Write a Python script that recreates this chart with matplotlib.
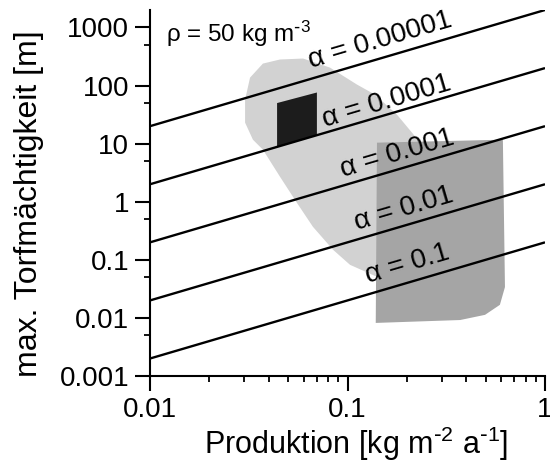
import math

import matplotlib

matplotlib.use("Agg")
import matplotlib.pyplot as plt
from matplotlib.ticker import FixedLocator, FuncFormatter, LogLocator, NullFormatter

# iso-alpha lines: max. peat thickness at the two ends of the x range
PROD_ENDS = [0.01, 1.0]
ALPHA_LABELS = ["0.00001", "0.0001", "0.001", "0.01", "0.1"]
THICK_LEFT = [20, 2, 0.2, 0.02, 0.002]
THICK_RIGHT = [2000, 200, 20, 2, 0.2]

# label anchors (left baseline of the alpha)
LABEL_X = [0.0655, 0.0765, 0.0945, 0.1117, 0.127]
LABEL_Y = [204, 19.6, 2.70, 0.329, 0.040]

# light stippled field
BLOB_X = [0.0303, 0.0321, 0.0373, 0.0455, 0.0596, 0.0815, 0.1117, 0.1377, 0.178,
          0.212, 0.233, 0.246, 0.246, 0.141, 0.103, 0.0845, 0.0668, 0.0554,
          0.0455, 0.0373, 0.0332, 0.0303]
BLOB_Y = [57, 137, 239, 281, 292, 204, 104, 70, 31.6,
          15.5, 10.4, 5.3, 0.055, 0.051, 0.082, 0.149, 0.371, 0.962,
          2.70, 7.88, 11.7, 23]

# darker stippled field
DARK_X = [0.141, 0.612, 0.627, 0.591, 0.497, 0.372, 0.139]
DARK_Y = [10.4, 11.7, 0.034, 0.0168, 0.0113, 0.0092, 0.0082]

# black field
BLACK_X = [0.044, 0.070, 0.070, 0.044]
BLACK_Y = [8.8, 14.0, 76, 50]

Y_TICKS = [0.001, 0.01, 0.1, 1, 10, 100, 1000]
X_TICKS = [0.01, 0.1, 1]

plt.rcParams.update({
    "font.family": ["Liberation Sans", "DejaVu Sans"],
    "mathtext.default": "regular",
    "axes.linewidth": 1.5,
})

fig = plt.figure(figsize=(5.5, 4.67), dpi=100)
ax = fig.add_axes([150 / 550, 1 - 376 / 467, 395 / 550, 366 / 467])
ax.set_xscale("log")
ax.set_yscale("log")
ax.set_xlim(0.01, 1)
ax.set_ylim(0.001, 2000)

ax.fill(BLOB_X, BLOB_Y, color="#d2d2d2", lw=0, zorder=1)
ax.fill(DARK_X, DARK_Y, color="#a5a5a5", lw=0, zorder=2)
ax.fill(BLACK_X, BLACK_Y, color="#1c1c1c", lw=0, zorder=3)

for lo, hi in zip(THICK_LEFT, THICK_RIGHT):
    ax.plot(PROD_ENDS, [lo, hi], color="black", lw=1.7, zorder=4,
            solid_capstyle="butt")

# rotate labels along the lines (same slope for all)
p0 = ax.transData.transform((PROD_ENDS[0], THICK_LEFT[0]))
p1 = ax.transData.transform((PROD_ENDS[1], THICK_RIGHT[0]))
angle = math.degrees(math.atan2(p1[1] - p0[1], p1[0] - p0[0]))
for lab, lx, ly in zip(ALPHA_LABELS, LABEL_X, LABEL_Y):
    ax.text(lx, ly, f"α = {lab}", rotation=angle, rotation_mode="anchor",
            ha="left", va="baseline", fontsize=20, zorder=5)

ax.text(0.04, 0.975, "ρ = 50 kg m$^{\\text{-}3}$", transform=ax.transAxes,
        ha="left", va="top", fontsize=17.5)

ax.spines["top"].set_visible(False)
ax.spines["right"].set_visible(False)

ax.yaxis.set_major_locator(FixedLocator(Y_TICKS))
ax.yaxis.set_minor_locator(LogLocator(base=10, subs=[5]))
ax.xaxis.set_major_locator(FixedLocator(X_TICKS))
ax.xaxis.set_minor_locator(LogLocator(base=10, subs=range(2, 10)))
fmt = FuncFormatter(lambda v, _: f"{v:g}")
ax.yaxis.set_major_formatter(fmt)
ax.xaxis.set_major_formatter(fmt)
ax.yaxis.set_minor_formatter(NullFormatter())
ax.xaxis.set_minor_formatter(NullFormatter())
ax.tick_params(which="major", direction="out", length=11, width=1.5,
               labelsize=20, pad=4)
ax.tick_params(which="minor", direction="out", length=4, width=1.3)

ax.set_xlabel("Produktion [kg m$^{\\text{-}2}$ a$^{\\text{-}1}$]", fontsize=22,
              labelpad=1, x=0.522)
ax.set_ylabel("max. Torfmächtigkeit [m]", fontsize=23, labelpad=11, y=0.47)

fig.savefig("out.png", dpi=100)
